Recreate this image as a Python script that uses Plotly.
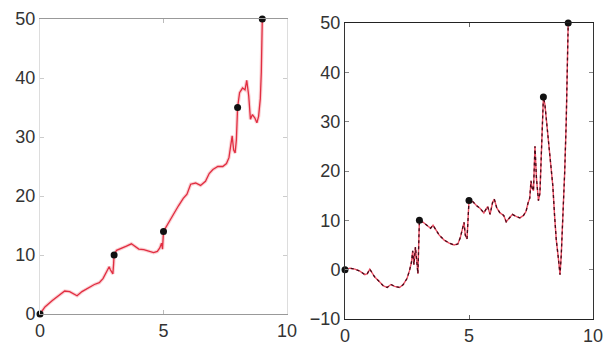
import plotly.graph_objects as go

# ---- data ----
left_x = [0, 0.2, 0.5, 0.8, 1.0, 1.2, 1.4, 1.5, 1.7, 2.0, 2.2, 2.4, 2.55, 2.7, 2.8, 2.85, 2.9, 2.95, 2.98, 3.0,
          3.1, 3.3, 3.5, 3.7, 3.85, 4.0, 4.2, 4.4, 4.6, 4.75, 4.85, 4.92, 4.96, 5.0,
          5.2, 5.4, 5.6, 5.8, 5.95, 6.1, 6.3, 6.5, 6.7, 6.85, 7.0, 7.2, 7.4, 7.55, 7.65, 7.72, 7.78, 7.84, 7.9, 7.95, 8.0,
          8.08, 8.2, 8.3, 8.37, 8.45, 8.52, 8.6, 8.7, 8.78, 8.85, 8.92, 8.96, 9.0]
left_y = [0, 1.2, 2.3, 3.2, 3.9, 3.8, 3.3, 3.1, 3.8, 4.6, 5.0, 5.3, 6.0, 7.2, 8.0, 7.5, 7.0, 6.8, 8.5, 10,
          10.8, 11.1, 11.5, 11.9, 11.5, 11.0, 10.9, 10.6, 10.4, 10.6, 11.2, 12.0, 11.0, 14,
          15.5, 17, 18.3, 19.6, 20.3, 22.0, 22.2, 21.8, 22.5, 23.8, 24.5, 25.0, 25.0, 25.5, 26.5, 28.5, 30.2, 27.8, 27.3, 29.5, 35,
          37.5, 38.3, 38.0, 39.6, 37.0, 33.0, 33.8, 33.2, 32.4, 33.5, 36.5, 41, 50]

right_x = [0, 0.2, 0.4, 0.6, 0.8, 0.9, 1.0, 1.1, 1.2, 1.4, 1.55, 1.7, 1.85, 2.0, 2.2, 2.35, 2.5, 2.6, 2.68, 2.73,
           2.78, 2.84, 2.88, 2.94, 3.0, 3.15, 3.3, 3.45, 3.55, 3.65, 3.8, 4.0, 4.2, 4.4, 4.55, 4.65, 4.75, 4.8,
           4.85, 4.92, 5.0, 5.15, 5.3, 5.45, 5.6, 5.75, 5.85, 5.95, 6.02, 6.12, 6.25, 6.4, 6.5, 6.6, 6.75, 6.9,
           7.05, 7.2, 7.3, 7.38, 7.45, 7.5, 7.55, 7.6, 7.66, 7.72, 7.8, 7.86, 7.93, 7.97, 8.0,
           8.06, 8.12, 8.18, 8.22, 8.3, 8.38, 8.45, 8.52, 8.6, 8.67, 8.72, 8.8, 8.86, 8.92, 9.0]
right_y = [0, 0.3, 0.1, -0.3, -1.0, -0.8, 0.1, -0.6, -1.5, -2.5, -3.3, -3.6, -3.0, -3.4, -3.6, -3.0, -1.8, -0.2, 1.5, 3.8,
           1.0, 4.6, 2.0, -0.8, 10, 9.6, 9.0, 8.4, 9.0, 8.2, 7.0, 6.0, 5.4, 5.0, 5.2, 6.5, 8.5, 9.6,
           7.0, 6.2, 14, 13.8, 13.0, 12.4, 11.5, 12.8, 11.2, 13.6, 14.3, 12.5, 11.5, 11.0, 9.7, 10.3, 11.2, 10.8,
           10.5, 11.0, 11.8, 13.5, 14.5, 18.0, 16.5, 16.0, 25.0, 18.5, 14.0, 15.5, 26.0, 29.5, 35,
           33.5, 30.5, 27.5, 24.0, 21.5, 17.0, 11.0, 6.0, 2.5, -1.0, 3.0, 12.0, 20.0, 30.0, 50]

dot_x = [0, 3, 5, 8, 9]
left_dot_y = [0, 10, 14, 35, 50]
right_dot_y = [0, 10, 14, 35, 50]

x_ticks = [0, 5, 10]
left_y_ticks = [0, 10, 20, 30, 40, 50]
right_y_ticks = [-10, 0, 10, 20, 30, 40, 50]

W, H = 608, 347
fig = go.Figure()

red = "rgb(225,45,65)"
# left panel
fig.add_trace(go.Scatter(x=left_x, y=left_y, mode="lines", line=dict(color="rgba(240,120,130,0.35)", width=3.5),
                         xaxis="x", yaxis="y", showlegend=False))
fig.add_trace(go.Scatter(x=left_x, y=left_y, mode="lines", line=dict(color=red, width=1.3),
                         xaxis="x", yaxis="y", showlegend=False))
fig.add_trace(go.Scatter(x=dot_x, y=left_dot_y, mode="markers", marker=dict(color="#111", size=7),
                         cliponaxis=False, xaxis="x", yaxis="y", showlegend=False))
# right panel
fig.add_trace(go.Scatter(x=right_x, y=right_y, mode="lines", line=dict(color="rgb(235,80,100)", width=1.4),
                         xaxis="x2", yaxis="y2", showlegend=False))
fig.add_trace(go.Scatter(x=right_x, y=right_y, mode="lines",
                         line=dict(color="rgb(70,10,25)", width=1.3, dash="3px,3px"),
                         xaxis="x2", yaxis="y2", showlegend=False))
fig.add_trace(go.Scatter(x=dot_x, y=right_dot_y, mode="markers", marker=dict(color="#111", size=7),
                         cliponaxis=False, xaxis="x2", yaxis="y2", showlegend=False))

font = dict(family="Liberation Sans, Arial, sans-serif", size=18, color="#333")
common = dict(showgrid=False, zeroline=False, ticks="inside", ticklen=4, showline=True,
              mirror="ticks", tickfont=font, automargin=False)

fig.update_layout(
    width=W, height=H, margin=dict(l=0, r=0, t=0, b=0),
    paper_bgcolor="white", plot_bgcolor="white",
    xaxis=dict(domain=[40 / W, 287 / W], range=[0, 10], tickvals=x_ticks, anchor="y",
               linecolor="#999", tickcolor="#bbb", **common),
    yaxis=dict(domain=[(H - 314) / H, (H - 19) / H], range=[0, 50], tickvals=left_y_ticks, anchor="x",
               linecolor="#ddd", tickcolor="#ccc", **common),
    xaxis2=dict(domain=[345 / W, 593 / W], range=[0, 10], tickvals=x_ticks, anchor="y2",
                linecolor="#222", tickcolor="#666", **common),
    yaxis2=dict(domain=[(H - 319) / H, (H - 23) / H], range=[-10, 50], tickvals=right_y_ticks, anchor="x2",
                linecolor="#333", tickcolor="#888", **common),
)

fig.write_html("out.html", config={"displayModeBar": False},
               post_script="document.body.style.margin='0px';document.body.style.overflow='hidden';")
